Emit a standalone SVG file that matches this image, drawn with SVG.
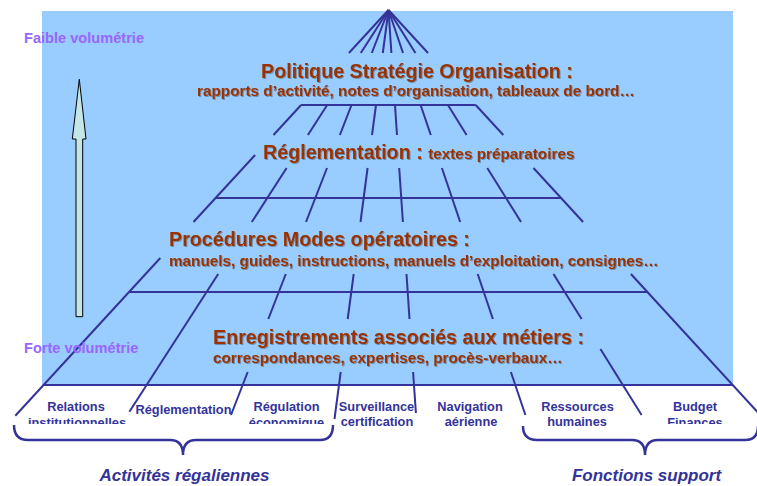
<svg xmlns="http://www.w3.org/2000/svg" width="757" height="486" viewBox="0 0 757 486">
<style>
.bg{fill:#99CCFF}
.grid line,.grid polyline{stroke:#333399;stroke-width:2;fill:none;stroke-linecap:butt}
.t{font-family:"Liberation Sans",Arial,sans-serif;font-weight:bold;fill:#993300;filter:url(#sh)}
.h{font-size:19.7px}
.s{font-size:15.3px}
.vol{font-family:"Liberation Sans",Arial,sans-serif;font-weight:bold;font-size:14.6px;fill:#9966FF}
.lab{font-family:"Liberation Sans",Arial,sans-serif;font-weight:bold;font-size:12.8px;fill:#333399;text-anchor:middle}
.grp{font-family:"Liberation Sans",Arial,sans-serif;font-weight:bold;font-style:italic;font-size:17px;fill:#333399;text-anchor:middle}
.brace{fill:none;stroke:#333399;stroke-width:2.5}
</style>
<defs>
<filter id="sh" x="-5%" y="-20%" width="110%" height="150%">
<feDropShadow dx="1" dy="1" stdDeviation="0.4" flood-color="#000000" flood-opacity="0.3"/>
</filter>
<clipPath id="clip"><rect x="0" y="0" width="757" height="424"/></clipPath>
</defs>
<rect class="bg" x="42" y="11" width="691" height="374"/>

<g id="connectors" class="grid">
<line x1="388.5" y1="10" x2="348.9" y2="53"/>
<line x1="388.5" y1="10" x2="360.8" y2="53"/>
<line x1="388.5" y1="10" x2="371.8" y2="53"/>
<line x1="388.5" y1="10" x2="382.8" y2="53"/>
<line x1="388.5" y1="10" x2="391.4" y2="53"/>
<line x1="388.5" y1="10" x2="403" y2="53"/>
<line x1="388.5" y1="10" x2="415.4" y2="53"/>
<line x1="388.5" y1="10" x2="428" y2="53"/>
<line x1="301.1" y1="105" x2="475.7" y2="105"/>
<line x1="301.1" y1="105" x2="273.5" y2="135"/>
<line x1="327.2" y1="105" x2="307.9" y2="135"/>
<line x1="351.5" y1="105" x2="339.9" y2="135"/>
<line x1="376" y1="105" x2="372" y2="135"/>
<line x1="395" y1="105" x2="397" y2="135"/>
<line x1="420.6" y1="105" x2="430.8" y2="135"/>
<line x1="447.9" y1="105" x2="466.6" y2="135"/>
<line x1="475.7" y1="105" x2="503.3" y2="135"/>
<line x1="215.5" y1="198" x2="561.1" y2="198"/>
<line x1="255.1" y1="155" x2="193.5" y2="222"/>
<line x1="286.6" y1="168" x2="251.8" y2="222"/>
<line x1="327" y1="168" x2="306" y2="222"/>
<line x1="367.6" y1="168" x2="360.5" y2="222"/>
<line x1="399.2" y1="168" x2="402.9" y2="222"/>
<line x1="441.9" y1="168" x2="460.2" y2="222"/>
<line x1="487.3" y1="168" x2="521" y2="222"/>
<line x1="533.5" y1="168" x2="583.1" y2="222"/>
<line x1="129.1" y1="292" x2="647.4" y2="292"/>
<line x1="160.3" y1="258" x2="15.3" y2="415.7"/>
<line x1="218.2" y1="274" x2="129.4" y2="411.7"/>
<line x1="285.8" y1="274" x2="268.3" y2="319"/>
<line x1="353.7" y1="274" x2="347.7" y2="319"/>
<line x1="406.5" y1="274" x2="409.5" y2="319"/>
<line x1="477.7" y1="274" x2="492.9" y2="319"/>
<line x1="553.5" y1="274" x2="581.6" y2="319"/>
<line x1="630.9" y1="274" x2="763" y2="418"/>
<line x1="43" y1="385" x2="733" y2="385"/>
<line x1="247.7" y1="372" x2="231" y2="415"/>
<line x1="340.7" y1="372" x2="334.5" y2="419"/>
<line x1="413.1" y1="372" x2="415.9" y2="413"/>
<line x1="510.9" y1="372" x2="525.4" y2="415"/>
<line x1="600.4" y1="349" x2="641.6" y2="415"/>
</g>

<g id="volume-arrow">
<polygon points="79.3,79.3 86,139 82.7,139 82.7,316.7 76,316.7 76,139 72.3,139" fill="#C4E6E6" stroke="#000000" stroke-width="1" stroke-linejoin="miter"/>
<text class="vol" x="24" y="43">Faible volumétrie</text>
<text class="vol" x="24" y="353">Forte volumétrie</text>
</g>

<g id="level-politique">
<text class="t h" x="261" y="78">Politique Stratégie Organisation :</text>
<text class="t s" x="197" y="96">rapports d’activité, notes d’organisation, tableaux de bord…</text>
</g>
<g id="level-reglementation">
<text class="t" x="263" y="159"><tspan class="h">Réglementation : </tspan><tspan class="s">textes préparatoires</tspan></text>
</g>
<g id="level-procedures">
<text class="t h" x="169" y="246">Procédures Modes opératoires :</text>
<text class="t s" x="169" y="266">manuels, guides, instructions, manuels d’exploitation, consignes…</text>
</g>
<g id="level-enregistrements">
<text class="t h" x="213" y="344">Enregistrements associés aux métiers :</text>
<text class="t s" x="213" y="363">correspondances, expertises, procès-verbaux…</text>
</g>

<g id="label-relations"><text class="lab" x="76" y="411">Relations</text><text class="lab" x="77" y="427" clip-path="url(#clip)">institutionnelles</text></g>
<g id="label-reglementation"><text class="lab" x="183.5" y="414">Réglementation</text></g>
<g id="label-regulation"><text class="lab" x="286.5" y="411">Régulation</text><text class="lab" x="286.5" y="427" clip-path="url(#clip)">économique</text></g>
<g id="label-surveillance"><text class="lab" x="376.5" y="411">Surveillance</text><text class="lab" x="377" y="425.5">certification</text></g>
<g id="label-navigation"><text class="lab" x="470" y="411">Navigation</text><text class="lab" x="471" y="425.5">aérienne</text></g>
<g id="label-ressources"><text class="lab" x="577.5" y="411">Ressources</text><text class="lab" x="577" y="425.5">humaines</text></g>
<g id="label-budget"><text class="lab" x="695" y="411">Budget</text><text class="lab" x="695" y="427" clip-path="url(#clip)">Finances</text></g>

<g id="group-regaliennes">
<path class="brace" d="M14,425 Q14,440 28,440 L170,440 Q183,440 183,455 Q183,440 196,440 L320,440 Q333,440 333,425"/>
<text class="grp" x="184.5" y="481">Activités régaliennes</text>
</g>
<g id="group-support">
<path class="brace" d="M523,426 Q523,440 537,440 L632,440 Q645,440 645,455 Q645,440 658,440 L745,440 Q758,440 758,426"/>
<text class="grp" x="646.5" y="481">Fonctions support</text>
</g>
</svg>
